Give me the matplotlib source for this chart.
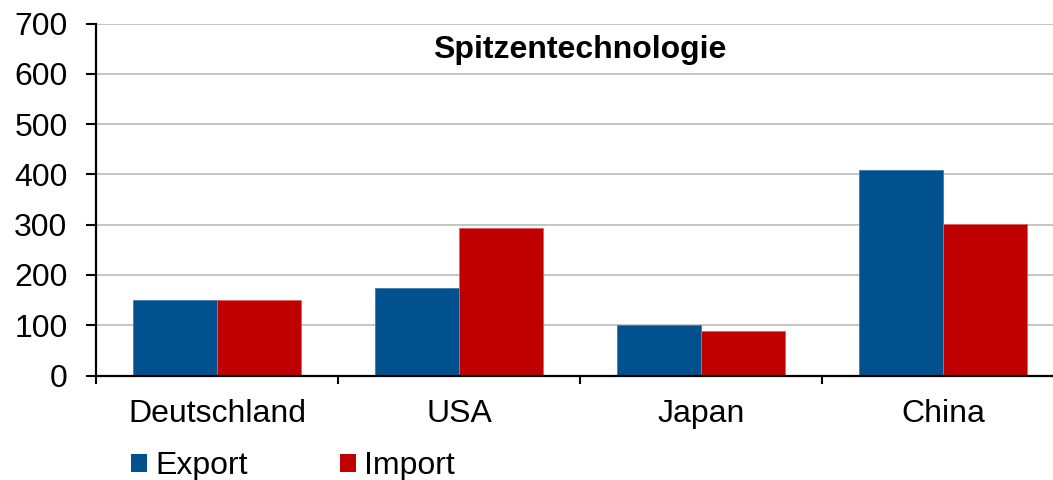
import matplotlib
matplotlib.use("Agg")
import matplotlib.pyplot as plt
import numpy as np
from matplotlib.patches import Patch

categories = ["Deutschland", "USA", "Japan", "China"]
export_vals = [151, 175, 100, 408]
import_vals = [151, 293, 88, 302]
series_names = ["Export", "Import"]
title = "Spitzentechnologie"
yticks = [0, 100, 200, 300, 400, 500, 600, 700]

BLUE = "#00518E"
RED = "#C00000"

plt.rcParams['font.family'] = ['Liberation Sans', 'DejaVu Sans']
FS = 23

W, H = 1053, 480
fig = plt.figure(figsize=(W / 100, H / 100), dpi=100)
left, right, top, bottom = 96, 1064, 23.5, 375.5
ax = fig.add_axes([left / W, 1 - bottom / H, (right - left) / W, (bottom - top) / H])

x = np.arange(len(categories))
bw = 0.347
ax.bar(x - bw / 2, export_vals, bw, color=BLUE, edgecolor="#3E7DB5", linewidth=0.6, zorder=3)
ax.bar(x + bw / 2, import_vals, bw, color=RED, edgecolor="#E06060", linewidth=0.6, zorder=3)

ax.set_xlim(-0.5, len(categories) - 0.5)
ax.set_ylim(0, 700)
ax.set_yticks(yticks)
ax.set_yticklabels([str(v) for v in yticks])
ax.set_xticks(x)
ax.set_xticklabels(categories)
ax.set_xticks(np.arange(-0.5, len(categories), 1.0), minor=True)

ax.tick_params(axis="y", which="major", length=7.5, width=1.5, labelsize=FS, pad=13, color="black")
ax.tick_params(axis="x", which="major", length=0, labelsize=FS, pad=17)
ax.tick_params(axis="x", which="minor", length=6, width=1.5, color="black")

ax.grid(axis="y", color="#C0C0C0", linewidth=1.3, zorder=0)
ax.set_axisbelow(True)
for s in ["top", "right"]:
    ax.spines[s].set_visible(False)
for s in ["left", "bottom"]:
    ax.spines[s].set_linewidth(1.6)
    ax.spines[s].set_zorder(4)

ax.text(0.5, 1 - (50 - top) / (bottom - top), title, transform=ax.transAxes,
        ha="center", va="center", fontsize=FS, fontweight="bold")

handles = [Patch(facecolor=BLUE, edgecolor="none"), Patch(facecolor=RED, edgecolor="none")]
fig.legend(handles, series_names, loc="center left",
           bbox_to_anchor=(131 / W, 1 - 466 / H), ncol=2, frameon=False,
           fontsize=FS, handlelength=0.5, handleheight=0.5, handletextpad=0.25,
           columnspacing=2.9, borderpad=0, borderaxespad=0)

fig.savefig("out.png", dpi=100)
